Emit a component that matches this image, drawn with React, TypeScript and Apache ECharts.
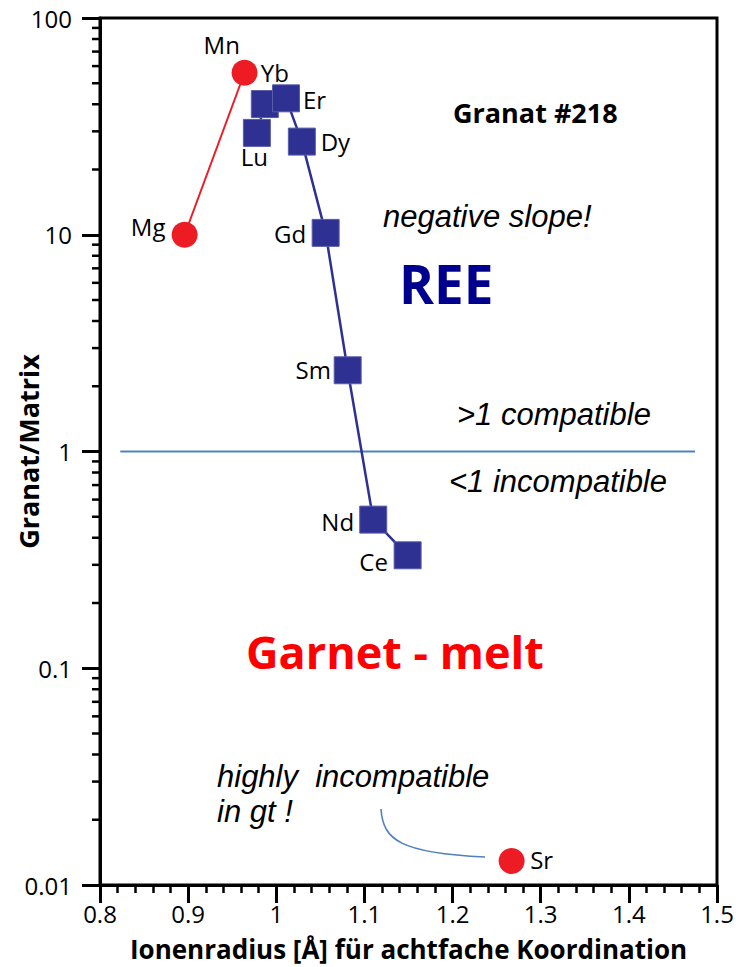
import React, { useEffect, useRef } from "react";
import * as echarts from "echarts";

// Ionic radius (Å, eightfold coordination) and garnet/matrix partition coefficient
const reeNames = ["Lu", "Yb", "Er", "Dy", "Gd", "Sm", "Nd", "Ce"];
const reeRadius = [0.978, 0.987, 1.011, 1.029, 1.056, 1.081, 1.110, 1.149];
const reeRatio = [29.5, 40.1, 42.6, 26.9, 10.2, 2.37, 0.485, 0.332];

const divalentNames = ["Mg", "Mn"];
const divalentRadius = [0.896, 0.964];
const divalentRatio = [10.0, 55.9];

const srName = "Sr";
const srRadius = 1.267;
const srRatio = 0.0129;

// Reference line D = 1 and the curved pointer to Sr (start, control 1, control 2, end)
const unityLine = [[0.823, 1], [1.475, 1]];
const srPointer = [[1.1188, 0.02242], [1.1211, 0.01613], [1.1404, 0.01405], [1.2368, 0.01346]];

// axis ticks and their labels
const xTicks = [0.8, 0.9, 1.0, 1.1, 1.2, 1.3, 1.4, 1.5];
const xTickLabels = ["0.8", "0.9", "1", "1.1", "1.2", "1.3", "1.4", "1.5"];
const yTicks = [0.01, 0.1, 1, 10, 100];
const yTickLabels = ["0.01", "0.1", "1", "10", "100"];
const yMinorTicks: number[] = [];
for (let e = -2; e <= 1; e++) {
  for (let m = 2; m <= 9; m++) yMinorTicks.push(m * Math.pow(10, e));
}

// label offsets (text centre relative to marker centre)
const reeLabelOffsets: [number, number][] = [
  [-2.5, 23.5], [10, -31.5], [28.5, 1], [33.5, -0.5], [-35.5, 0.5], [-34.5, -1], [-35.5, 1.5], [-34, 6],
];
const divalentLabelOffsets: [number, number][] = [[-36.5, -8.6], [-22.8, -28.3]];
const srLabelOffset: [number, number] = [30, -2];

const SANS = "Open Sans";
const ITALIC = "Liberation Sans";

export default function App() {
  const ref = useRef<HTMLDivElement>(null);

  useEffect(() => {
    document.body.style.margin = "0";
    if (!ref.current) return;
    const chart = echarts.init(ref.current, undefined, { renderer: "svg" });

    const pointLabel = (off: [number, number]) => ({
      show: true,
      position: "inside",
      offset: off,
      fontFamily: SANS,
      fontSize: 24,
      color: "#000",
    });

    const text = (
      str: string,
      left: number,
      baseline: number,
      size: number,
      family: string,
      opts: Record<string, any> = {}
    ) => ({
      type: "text",
      x: left,
      y: baseline - 0.35 * size,
      silent: true,
      z: 100,
      style: {
        text: str,
        fontFamily: family,
        fontSize: size,
        fill: "#000",
        align: "left",
        verticalAlign: "middle",
        ...opts,
      },
    });

    const tickText = (str: string, x: number, y: number, align: string) => ({
      type: "text",
      x,
      y,
      style: {
        text: str,
        fontFamily: SANS,
        fontSize: 24,
        lineHeight: 22,
        fill: "#000",
        align,
        verticalAlign: "middle",
      },
    });

    chart.setOption({
      animation: false,
      grid: {
        left: 100,
        right: 19,
        top: 18,
        bottom: 82,
        outerBoundsMode: "none",
        containLabel: false,
        show: true,
        borderColor: "#000",
        borderWidth: 3,
        backgroundColor: "transparent",
      },
      xAxis: {
        type: "value",
        min: xTicks[0],
        max: xTicks[xTicks.length - 1],
        interval: 0.1,
        name: "Ionenradius [Å] für achtfache Koordination",
        nameLocation: "middle",
        nameGap: 50,
        nameMoveOverlap: false,
        nameTextStyle: { fontFamily: SANS, fontSize: 26, lineHeight: 28, fontWeight: "bold", color: "#000" },
        axisLine: { lineStyle: { color: "#000", width: 3 } },
        axisTick: { length: 18, lineStyle: { color: "#000", width: 3 } },
        minorTick: { show: true, splitNumber: 5, length: 8, lineStyle: { color: "#000", width: 2.5 } },
        splitLine: { show: false },
        axisLabel: { show: false },
      },
      yAxis: {
        type: "log",
        logBase: 10,
        min: yTicks[0],
        max: yTicks[yTicks.length - 1],
        name: "Granat/Matrix",
        nameLocation: "middle",
        nameGap: 58,
        nameMoveOverlap: false,
        nameTextStyle: { fontFamily: SANS, fontSize: 27, fontWeight: "bold", color: "#000" },
        axisLine: { lineStyle: { color: "#000", width: 3 } },
        axisTick: { length: 18, lineStyle: { color: "#000", width: 3 } },
        splitLine: { show: false },
        axisLabel: { show: false },
      },
      series: [
        {
          // log minor ticks at 2..9 × 10^k
          type: "custom",
          clip: false,
          silent: true,
          data: yMinorTicks.map((v) => [xTicks[0], v]),
          renderItem: (_p: any, api: any) => {
            const pt = api.coord([api.value(0), api.value(1)]);
            return {
              type: "line",
              shape: { x1: pt[0] - 8, y1: pt[1], x2: pt[0], y2: pt[1] },
              style: { stroke: "#000", lineWidth: 2.5 },
            };
          },
        },
        {
          // y tick labels
          type: "custom",
          clip: false,
          silent: true,
          data: yTicks.map((v) => [xTicks[0], v]),
          renderItem: (p: any, api: any) => {
            const pt = api.coord([api.value(0), api.value(1)]);
            return tickText(yTickLabels[p.dataIndex], pt[0] - 28, pt[1], "right");
          },
        },
        {
          // x tick labels
          type: "custom",
          clip: false,
          silent: true,
          data: xTicks.map((v) => [v, yTicks[0]]),
          renderItem: (p: any, api: any) => {
            const pt = api.coord([api.value(0), api.value(1)]);
            return tickText(xTickLabels[p.dataIndex], pt[0], pt[1] + 28, "center");
          },
        },
        {
          type: "line",
          data: unityLine,
          symbol: "none",
          silent: true,
          lineStyle: { color: "#4f81bd", width: 2 },
          z: 1,
        },
        {
          type: "custom",
          clip: false,
          silent: true,
          data: [srPointer[0]],
          renderItem: (_p: any, api: any) => {
            const [p0, c1, c2, p3] = srPointer.map((d) => api.coord(d));
            return {
              type: "bezierCurve",
              shape: {
                x1: p0[0], y1: p0[1],
                cpx1: c1[0], cpy1: c1[1],
                cpx2: c2[0], cpy2: c2[1],
                x2: p3[0], y2: p3[1],
              },
              style: { stroke: "#4f81bd", fill: "none", lineWidth: 1.6 },
            };
          },
        },
        {
          name: "REE",
          type: "line",
          symbol: "rect",
          symbolSize: 27,
          lineStyle: { color: "#2e3192", width: 2.5 },
          itemStyle: { color: "#2e3192", borderColor: "#5a5eaa", borderWidth: 1 },
          data: reeNames.map((n, i) => ({
            name: n,
            value: [reeRadius[i], reeRatio[i]],
            label: { ...pointLabel(reeLabelOffsets[i]), formatter: n },
          })),
          z: 3,
        },
        {
          name: "Mg-Mn",
          type: "line",
          symbol: "circle",
          symbolSize: 26,
          lineStyle: { color: "#ed1c24", width: 2 },
          itemStyle: { color: "#ed1c24" },
          data: divalentNames.map((n, i) => ({
            name: n,
            value: [divalentRadius[i], divalentRatio[i]],
            label: { ...pointLabel(divalentLabelOffsets[i]), formatter: n },
          })),
          z: 4,
        },
        {
          name: "Sr",
          type: "scatter",
          symbol: "circle",
          symbolSize: 26,
          itemStyle: { color: "#ed1c24", opacity: 1 },
          data: [
            {
              name: srName,
              value: [srRadius, srRatio],
              label: { ...pointLabel(srLabelOffset), formatter: srName },
            },
          ],
          z: 4,
        },
      ],
      graphic: [
        text("Granat #218", 453, 122, 27, SANS, { fontWeight: "bold" }),
        text("negative slope!", 383, 227, 31, ITALIC, { fontStyle: "italic" }),
        text("REE", 399, 302, 53, SANS, { fontWeight: "bold", fill: "#00008f" }),
        text(">1 compatible", 457, 425, 31, ITALIC, { fontStyle: "italic" }),
        text("<1 incompatible", 449, 492, 31, ITALIC, { fontStyle: "italic" }),
        text("Garnet - melt", 246, 667, 45, SANS, { fontWeight: "bold", fill: "#ff0000" }),
        text("highly  incompatible", 217, 787, 31, ITALIC, { fontStyle: "italic" }),
        text("in gt !", 217, 822, 31, ITALIC, { fontStyle: "italic" }),
      ],
    });

    return () => chart.dispose();
  }, []);

  return <div ref={ref} style={{ width: 736, height: 967 }} />;
}
